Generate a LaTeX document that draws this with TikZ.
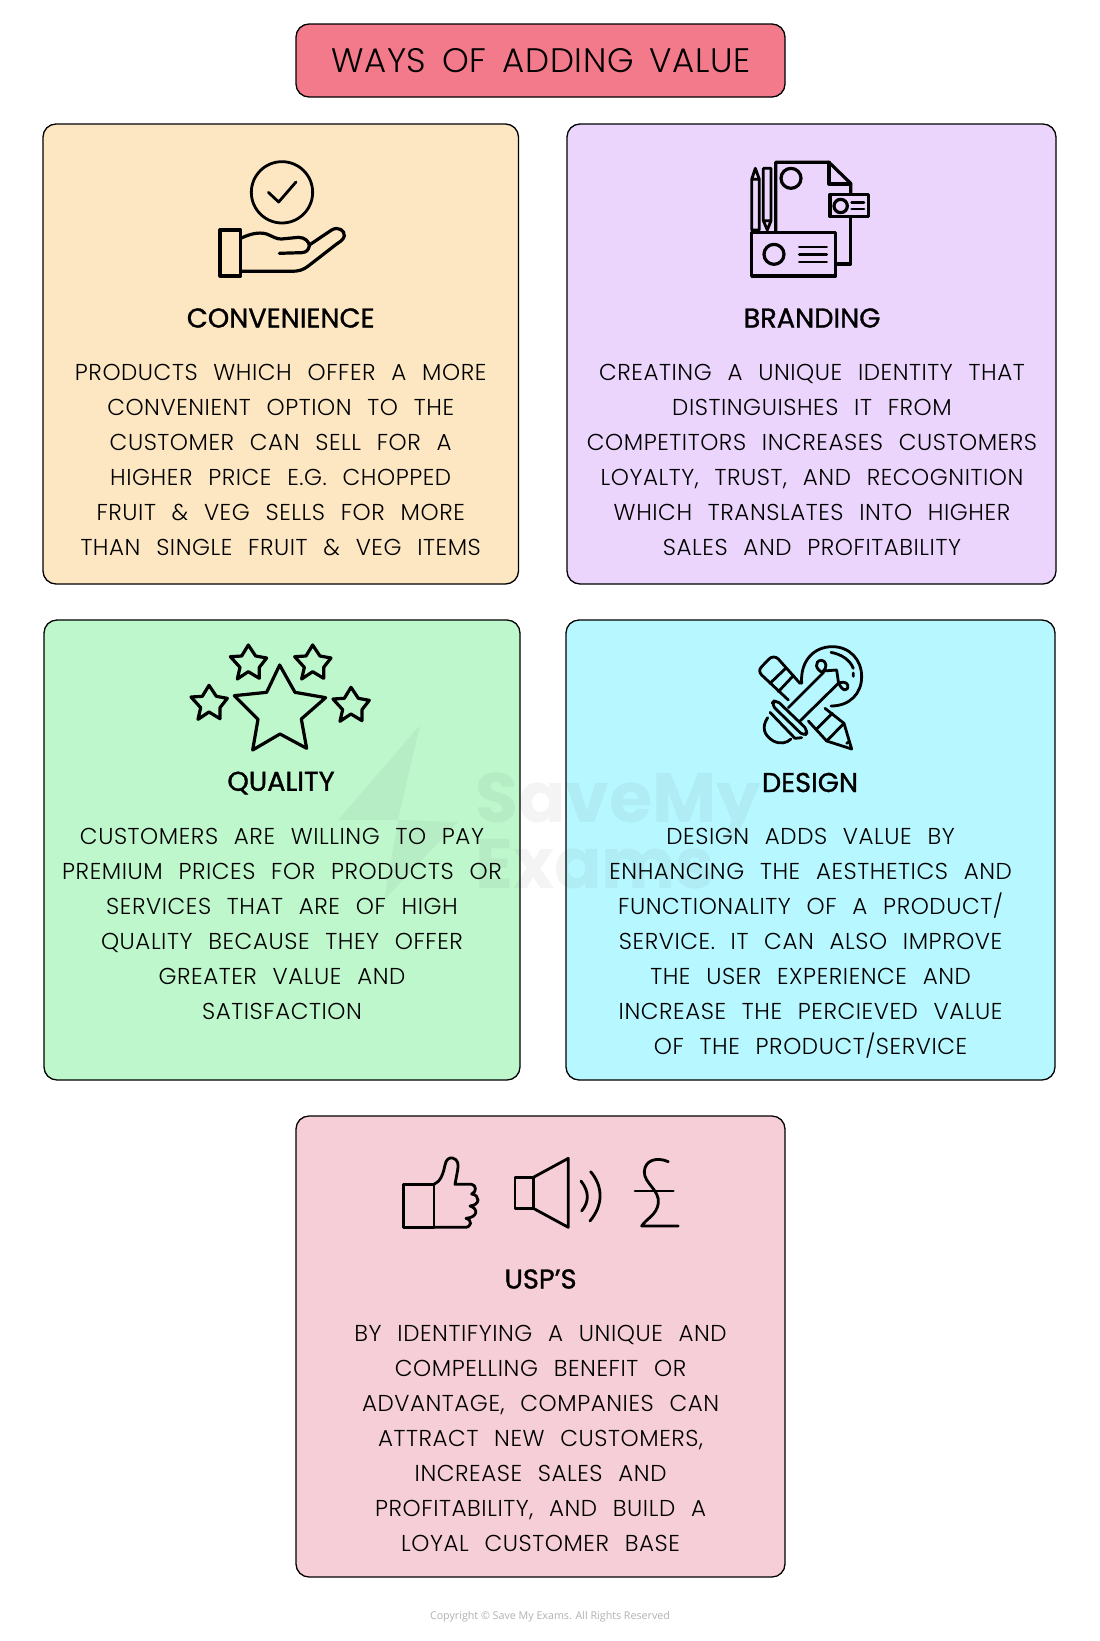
\documentclass[tikz,border=0pt]{standalone}
\usepackage{fontspec}
\setmainfont{Poppins}
\newfontfamily\copyfont{Open Sans}
\newfontfamily\widefam[WordSpace=2.3,LetterSpace=2.4]{Poppins Light}
\newfontfamily\titlefam[WordSpace=1.6,LetterSpace=2]{Poppins Light}
\newcommand{\bodyfont}{\widefam\fontsize{23}{35}\selectfont}
\newcommand{\headfont}{\fontsize{27.2}{30}\selectfont\addfontfeatures{FakeBold=1.2}}
\newcommand{\titlefont}{\titlefam\fontsize{34}{40}\selectfont}
\newcommand{\wmfont}{\bfseries\fontsize{70}{70}\selectfont}
\definecolor{ctitle}{HTML}{F27A8B}
\definecolor{cconv}{HTML}{FDE7C3}
\definecolor{cbrand}{HTML}{EBD5FD}
\definecolor{cqual}{HTML}{BFF7CC}
\definecolor{cdes}{HTML}{B7F7FF}
\definecolor{cusp}{HTML}{F6CED8}
\tikzset{
  card/.style={draw=black,line width=1.3pt,rounded corners=13pt},
  bodytext/.style={align=center,inner sep=0pt,font=\bodyfont,text=black},
  headtext/.style={inner sep=0pt,font=\headfont,text=black},
  icon/.style={draw=black,line width=3.2pt,line join=round,line cap=round},
  thin icon/.style={draw=black,line width=2.8pt,line join=round,line cap=round},
  zoomed/.style={x=0.3333pt,y=-0.3333pt},
  wm/.style={inner sep=0pt,opacity=0.045,text=black,font=\wmfont}
}
\begin{document}
\begin{tikzpicture}[x=1pt,y=-1pt]
\useasboundingbox (0,0) rectangle (1100,1641);
\fill[white] (0,0) rectangle (1100,1641);
% cards
\filldraw[card,fill=ctitle] (296,24) rectangle (785,97);
\filldraw[card,fill=cconv] (43,124) rectangle (518.5,584);
\filldraw[card,fill=cbrand] (567,124) rectangle (1056,584);
\filldraw[card,fill=cqual] (44,620) rectangle (520,1080);
\filldraw[card,fill=cdes] (566,620) rectangle (1055,1080);
\filldraw[card,fill=cusp] (296,1116) rectangle (785,1577);
% watermark
\fill[black,opacity=0.04] (420,725) -- (338,820) -- (398,820) -- (384,900) -- (458,822) -- (398,820) -- cycle;
\node[wm,anchor=base west] (wmone) at (475,822) {SaveMy};
\node[wm,anchor=base west] (wmtwo) at (475,888) {Exams};
% convenience icon
\begin{scope}[shift={(200,140)},zoomed]
\draw[thin icon] (246,157) circle[radius=92];
\draw[thin icon] (205,157) -- (236,186) -- (288,126);
\draw[icon] (60,270) rectangle (122,408);
\draw[icon] (122,295) .. controls (150,282) and (175,275) .. (200,282) .. controls (220,290) and (230,298) .. (245,297) -- (295,292) .. controls (315,292) and (328,305) .. (328,318) .. controls (325,330) and (320,337) .. (305,338) -- (238,340);
\draw[icon] (328,315) -- (395,270) .. controls (415,258) and (435,272) .. (433,288) .. controls (430,300) and (420,305) .. (410,312) -- (325,378) .. controls (310,390) and (295,394) .. (275,394) -- (122,394);
\end{scope}
% branding icon
\begin{scope}[shift={(730,150)},zoomed]
\draw[icon] (137,245) -- (137,37) -- (297,37) -- (362,100) -- (362,132);
\draw[icon] (297,37) -- (297,102) -- (362,102);
\draw[icon] (362,200) -- (362,342) -- (318,342);
\draw[icon] (183,85) circle[radius=30];
\draw[icon] (300,133) rectangle (415,200);
\draw[icon] (332,168) circle[radius=20];
\draw[thin icon] (365,158) -- (402,158) (365,177) -- (402,177);
\draw[icon] (65,248) rectangle (317,378);
\draw[icon] (132,313) circle[radius=30];
\draw[thin icon] (208,291) -- (290,291) (208,313) -- (290,313) (208,336) -- (290,336);
\draw[thin icon] (65,240) -- (65,88) -- (76,55) -- (88,88) -- (88,240) -- cycle (65,88) -- (88,88);
\draw[thin icon] (100,55) -- (123,55) -- (123,212) -- (112,240) -- (100,212) -- cycle (100,212) -- (123,212);
\end{scope}
% quality icon
\begin{scope}[shift={(180,630)},zoomed]
\draw[icon] (299,105) -- (345,187) -- (437,203) -- (364,267) -- (380,355) -- (300,312) -- (218,360) -- (234,268) -- (163,197) -- (260,187) -- cycle;
\foreach \tx/\ty in {205/45,398/45,87/166,513/172}{
  \begin{scope}[shift={(\tx,\ty)}]
  \draw[icon] (0,0) -- (22,33) -- (55,39) -- (33,67) -- (33,100) -- (0,80) -- (-33,102) -- (-25,67) -- (-54,35) -- (-20,33) -- cycle;
  \end{scope}
}
\end{scope}
% design icon
\begin{scope}[shift={(745,635)},zoomed]
\draw[thin icon] (165,145) -- (100,72) .. controls (92,64) and (80,64) .. (72,72) -- (50,95) .. controls (42,103) and (42,112) .. (50,120) -- (130,195);
\draw[thin icon] (75,145) -- (122,100) (100,170) -- (145,122);
\draw[thin icon] (240,220) -- (297,265) -- (320,342) -- (245,318) -- (190,258);
\draw[thin icon] (215,282) -- (262,235) (245,318) -- (297,265);
\draw[thin icon] (305,325) -- (312,320);
\draw[thin icon] (170,145) .. controls (165,80) and (205,35) .. (262,35) .. controls (315,35) and (350,75) .. (350,125) .. controls (350,175) and (315,213) .. (258,213);
\draw[thin icon] (258,52) .. controls (290,58) and (315,75) .. (325,100) (325,114) -- (325,124);
\draw[thin icon] (130,218) -- (235,113) (165,258) -- (280,145);
\draw[thin icon] (235,113) .. controls (210,105) and (208,78) .. (228,76) .. controls (248,78) and (245,100) .. (235,108) -- (275,105) -- (280,140) .. controls (290,172) and (312,170) .. (308,150) .. controls (305,140) and (290,140) .. (280,145);
\draw[thin icon,rounded corners=5pt] (92,193) -- (190,287) -- (178,305) -- (78,208) -- cycle;
\draw[thin icon] (75,232) -- (150,310) -- (170,308);
\draw[thin icon] (68,248) .. controls (50,275) and (55,300) .. (85,318) .. controls (105,328) and (125,325) .. (138,312);
\end{scope}
% USP icons
\begin{scope}[shift={(390,1140)},zoomed]
\draw[thin icon] (41,133) rectangle (132,262);
\draw[thin icon] (132,133) .. controls (152,125) and (160,100) .. (165,75) .. controls (168,58) and (178,52) .. (188,54) .. controls (205,58) and (206,75) .. (203,90) -- (195,133) -- (245,133) .. controls (258,135) and (262,155) .. (245,162) .. controls (270,165) and (272,195) .. (240,198) .. controls (265,205) and (265,232) .. (228,235) .. controls (248,240) and (245,262) .. (225,262) -- (132,262);
\draw[thin icon] (375,112) rectangle (430,205);
\draw[thin icon] (430,112) -- (535,55) -- (535,262) -- (430,205);
\draw[thin icon] (573,123) .. controls (598,155) and (598,185) .. (575,213);
\draw[thin icon] (602,95) .. controls (640,140) and (640,195) .. (600,243);
\draw[thin icon] (835,65) .. controls (800,50) and (765,60) .. (763,95) .. controls (762,130) and (810,150) .. (805,190) .. controls (800,225) and (770,235) .. (755,258) -- (865,258);
\draw[thin icon] (735,153) -- (850,153);
\end{scope}
% texts
\node[inner sep=0pt,font=\titlefont] (title) at (541,61) {WAYS OF ADDING VALUE};
\node[headtext] (convh) at (280.7,318) {CONVENIENCE};
\node[bodytext] (convb) at (280.7,460) {PRODUCTS WHICH OFFER A MORE\\CONVENIENT OPTION TO THE\\CUSTOMER CAN SELL FOR A\\HIGHER PRICE E.G. CHOPPED\\FRUIT \& VEG SELLS FOR MORE\\THAN SINGLE FRUIT \& VEG ITEMS};
\node[headtext] (brandh) at (812,318) {BRANDING};
\node[bodytext] (brandb) at (812,460) {CREATING A UNIQUE IDENTITY THAT\\DISTINGUISHES IT FROM\\COMPETITORS INCREASES CUSTOMERS\\LOYALTY, TRUST, AND RECOGNITION\\WHICH TRANSLATES INTO HIGHER\\SALES AND PROFITABILITY};
\node[headtext] (qualh) at (281,783) {QUALITY};
\node[bodytext] (qualb) at (282,924) {CUSTOMERS ARE WILLING TO PAY\\PREMIUM PRICES FOR PRODUCTS OR\\SERVICES THAT ARE OF HIGH\\QUALITY BECAUSE THEY OFFER\\GREATER VALUE AND\\SATISFACTION};
\node[headtext] (desh) at (810,782.5) {DESIGN};
\node[bodytext] (desb) at (810.6,943.4) {DESIGN ADDS VALUE BY\\ENHANCING THE AESTHETICS AND\\FUNCTIONALITY OF A PRODUCT/\\SERVICE. IT CAN ALSO IMPROVE\\THE USER EXPERIENCE AND\\INCREASE THE PERCIEVED VALUE\\OF THE PRODUCT/SERVICE};
\node[headtext] (usph) at (540.6,1279) {USP’S};
\node[bodytext] (uspb) at (540.6,1438) {BY IDENTIFYING A UNIQUE AND\\COMPELLING BENEFIT OR\\ADVANTAGE, COMPANIES CAN\\ATTRACT NEW CUSTOMERS,\\INCREASE SALES AND\\PROFITABILITY, AND BUILD A\\LOYAL CUSTOMER BASE};
\node[inner sep=0pt,text=black!30,font=\copyfont\fontsize{10.7}{14}\selectfont] (copy) at (550,1617) {Copyright © Save My Exams. All Rights Reserved};
\end{tikzpicture}
\end{document}
